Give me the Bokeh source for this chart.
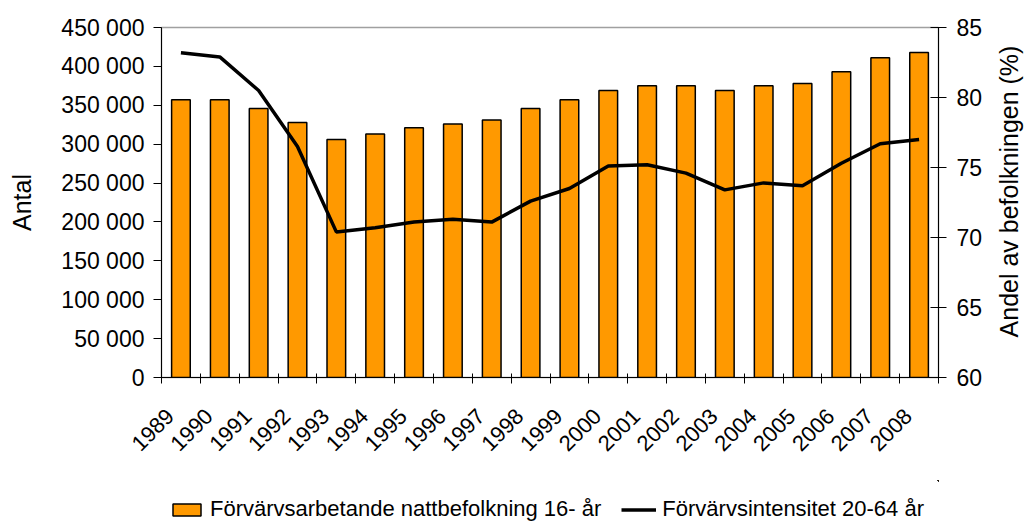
import math
from bokeh.plotting import figure
from bokeh.layouts import row, column
from bokeh.models import (Range1d, LinearAxis, FixedTicker, Legend, LegendItem, Title,
                          ColumnDataSource, CustomJSTickFormatter)
from bokeh.embed import file_html
from bokeh.resources import INLINE

# ---- data ----
years = [str(y) for y in range(1989, 2009)]
workers = [357000, 357000, 346000, 328000, 306000, 313000, 321000, 326000, 331000, 346000,
           357000, 369000, 375000, 375000, 369000, 375000, 378000, 393000, 411000, 418000]
intensity = [83.2, 82.9, 80.5, 76.5, 70.4, 70.7, 71.1, 71.3, 71.1, 72.6,
             73.5, 75.1, 75.2, 74.6, 73.4, 73.9, 73.7, 75.3, 76.7, 77.0]
left_ticks = [0, 50000, 100000, 150000, 200000, 250000, 300000, 350000, 400000, 450000]
right_ticks = [60, 65, 70, 75, 80, 85]
bar_label = "Förvärvsarbetande nattbefolkning 16- år"
line_label = "Förvärvsintensitet 20-64 år"
left_title = "Antal"
right_title = "Andel av befolkningen (%)"

FONT = "Liberation Sans"
XFS = "22px"   # rotated year labels
YFS = "23px"   # value tick labels
LFS = "22px"   # legend
TFS = "25px"   # axis titles

BAR_FILL = "#FF9900"

n = len(years)
xc = [i + 0.5 for i in range(n)]
src = ColumnDataSource(dict(x=xc, workers=workers, intensity=intensity, year=years))

# ---------------- main chart ----------------
p = figure(width=985, height=480, x_range=Range1d(0, n), y_range=Range1d(0, 450000),
           output_backend="svg", toolbar_location=None,
           min_border_left=161, min_border_right=45, min_border_top=27, min_border_bottom=103)
p.extra_y_ranges = {"pct": Range1d(60, 85)}
p.xgrid.visible = False
p.ygrid.visible = False
p.outline_line_color = "#A0A0A0"
p.outline_line_width = 1.5

bars = p.vbar(x="x", top="workers", width=0.48, source=src,
              fill_color=BAR_FILL, line_color="black", line_width=1.5)
ln = p.line(x="x", y="intensity", source=src, y_range_name="pct",
            line_color="black", line_width=3.5)

# x axis: category boundaries as minor ticks, labels shifted slightly left like the original
xa = p.xaxis[0]
xa.ticker = FixedTicker(ticks=[i + 0.22 for i in range(n)], minor_ticks=list(range(n + 1)))
xa.formatter = CustomJSTickFormatter(args=dict(labels=years),
                                     code="return labels[Math.floor(tick)];")
xa.major_tick_line_color = None
xa.major_tick_in = 0
xa.major_tick_out = 10
xa.minor_tick_in = 4
xa.minor_tick_out = 6
xa.minor_tick_line_color = "black"
xa.axis_line_color = "black"
xa.major_label_orientation = math.pi / 4
xa.major_label_standoff = 25
xa.major_label_text_font = FONT
xa.major_label_text_font_size = XFS
xa.major_label_text_color = "black"

# left axis
ya = p.yaxis[0]
ya.ticker = FixedTicker(ticks=left_ticks)
ya.major_label_overrides = {v: (f"{v:,}".replace(",", " ")) for v in left_ticks}
ya.major_tick_in = 0
ya.major_tick_out = 8
ya.minor_tick_line_color = None
ya.major_label_standoff = 9
ya.major_label_text_font = FONT
ya.major_label_text_font_size = YFS
ya.major_label_text_color = "black"
ya.axis_label = left_title
ya.axis_label_text_font = FONT
ya.axis_label_text_font_size = TFS
ya.axis_label_text_font_style = "normal"
ya.axis_label_text_color = "black"
ya.axis_label_standoff = 22
ya.axis_line_color = "black"

# right axis (its title is drawn in the narrow panel to the right, reading upwards)
ra = LinearAxis(y_range_name="pct", ticker=FixedTicker(ticks=right_ticks))
ra.major_tick_in = 8
ra.major_tick_out = 8
ra.minor_tick_line_color = None
ra.major_label_standoff = 10
ra.major_label_text_font = FONT
ra.major_label_text_font_size = YFS
ra.major_label_text_color = "black"
ra.axis_line_color = "black"
p.add_layout(ra, "right")

# ---------------- legend strip ----------------
# the same series are drawn here outside the visible range, only to supply legend swatches
p2 = figure(width=985, height=42, x_range=Range1d(-3, -2), y_range=Range1d(-3, -2),
            x_axis_type=None, y_axis_type=None, output_backend="svg", toolbar_location=None,
            min_border=0)
p2.outline_line_color = None
lb = p2.vbar(x="x", top="workers", width=0.48, source=src,
             fill_color=BAR_FILL, line_color="black", line_width=1.5)
ll = p2.line(x="x", y="intensity", source=src, line_color="black", line_width=3.5)
legend = Legend(items=[LegendItem(label=bar_label, renderers=[lb]),
                       LegendItem(label=line_label, renderers=[ll])],
                orientation="horizontal", location=(8, 0))
legend.border_line_color = None
legend.background_fill_alpha = 0
legend.padding = 0
legend.margin = 0
legend.spacing = 20
legend.glyph_width = 35
legend.glyph_height = 15
legend.label_standoff = 6
legend.label_height = 20
legend.label_text_font = FONT
legend.label_text_font_size = LFS
legend.label_text_color = "black"
p2.add_layout(legend, "center")

# ---------------- right title strip ----------------
p3 = figure(width=44, height=480, x_range=Range1d(0, 1), y_range=Range1d(0, 1),
            x_axis_type=None, y_axis_type=None, output_backend="svg", toolbar_location=None,
            min_border_left=37, min_border_right=0, min_border_top=0, min_border_bottom=98)
p3.outline_line_color = None
p3.add_layout(Title(text=right_title, align="center", text_font=FONT, text_font_size=TFS,
                    text_font_style="normal", text_color="black", standoff=0, offset=0), "left")

layout = row(column(p, p2), p3)
open("out.html", "w").write(file_html(layout, INLINE))
